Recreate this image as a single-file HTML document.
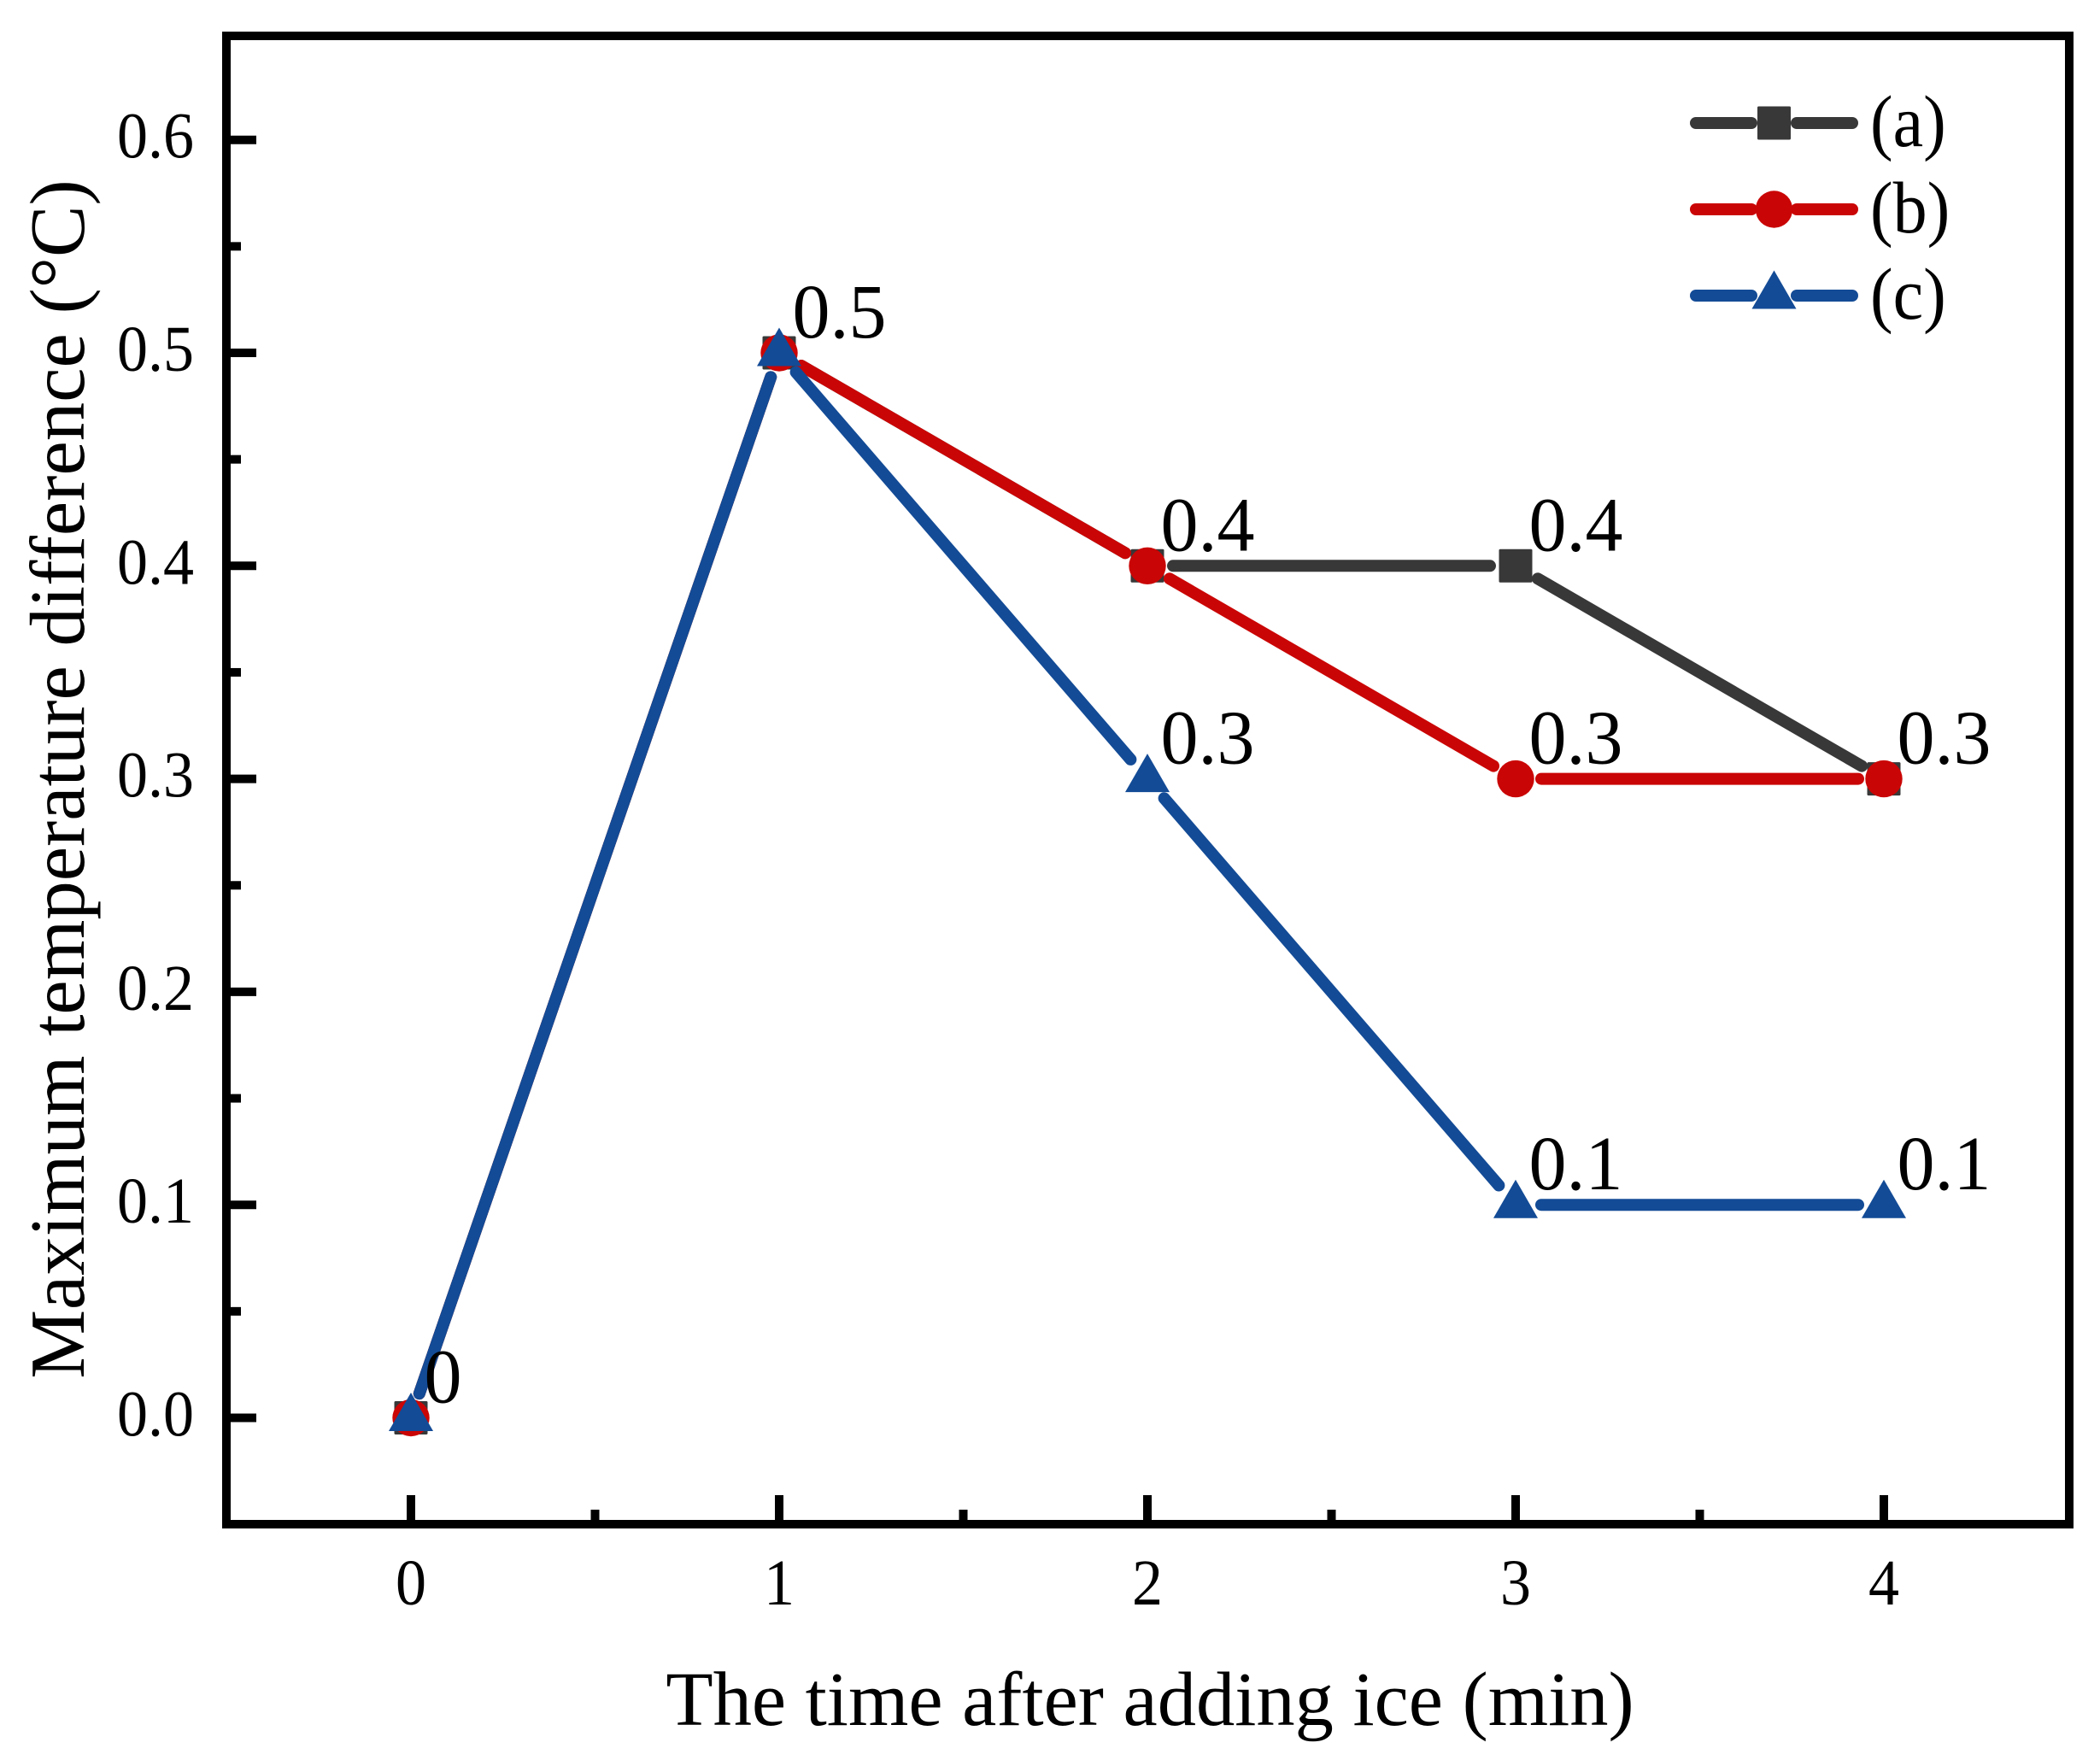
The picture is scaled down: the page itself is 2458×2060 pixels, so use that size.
<!DOCTYPE html>
<html lang="en">
<head>
<meta charset="utf-8">
<title>Maximum temperature difference chart</title>
<style>
html,body{margin:0;padding:0;background:#fff;}
svg{display:block;}
text{font-family:"Liberation Serif",serif;fill:#000;}
</style>
</head>
<body>
<svg id="chart" xmlns="http://www.w3.org/2000/svg" width="2458" height="2060" viewBox="0 0 2458 2060">
  <rect width="2458" height="2060" fill="#fff"/>
  <rect x="265" y="42" width="2157" height="1742" fill="none" stroke="#000" stroke-width="10"/>
  <g id="ticks"></g>
  <g id="series"></g>
  <g id="labels"></g>
  <g id="legend"></g>
  <text x="1346" y="2019" font-size="90.5" text-anchor="middle">The time after adding ice (min)</text>
  <text transform="translate(98,912) rotate(-90)" font-size="90.8" text-anchor="middle">Maximum temperature difference (°C)</text>
</svg>
<script>
const categories = [0, 1, 2, 3, 4];
const seriesA = [0, 0.5, 0.4, 0.4, 0.3];
const seriesB = [0, 0.5, 0.4, 0.3, 0.3];
const seriesC = [0, 0.5, 0.3, 0.1, 0.1];
const xTicks = ['0', '1', '2', '3', '4'];
const xMinorTicks = [0.5, 1.5, 2.5, 3.5];
const yTicks = ['0.0', '0.1', '0.2', '0.3', '0.4', '0.5', '0.6'];
const yMinorTicks = [0.05, 0.15, 0.25, 0.35, 0.45, 0.55];
const labelCategories = [0, 1, 2, 3, 4, 2, 3, 4, 3];
const labelValues = [0, 0.5, 0.4, 0.4, 0.3, 0.3, 0.3, 0.1, 0.1];
const labelTexts = ['0', '0.5', '0.4', '0.4', '0.3', '0.3', '0.3', '0.1', '0.1'];
const legendNames = ['(a)', '(b)', '(c)'];

const NS = 'http://www.w3.org/2000/svg';
const X0 = 481, XS = 431, Y0 = 1659.5, YS = 2493;
const PLOT_L = 270, PLOT_B = 1779;
function xPos(v) { return X0 + XS * v; }
function yPos(v) { return Y0 - YS * v; }

function el(tag, parent) {
  const n = document.createElementNS(NS, tag);
  parent.appendChild(n);
  return n;
}
function setLine(n, x1, y1, x2, y2, color, w, cap) {
  n.setAttribute('x1', x1);
  n.setAttribute('y1', y1);
  n.setAttribute('x2', x2);
  n.setAttribute('y2', y2);
  n.setAttribute('stroke', color);
  n.setAttribute('stroke-width', w);
  n.setAttribute('stroke-linecap', cap);
}
function setText(n, x, y, size, anchor, str, sy) {
  n.setAttribute('transform', 'translate(' + x + ',' + y + ') scale(1,' + sy + ')');
  n.setAttribute('font-size', size);
  n.setAttribute('text-anchor', anchor);
  n.textContent = str;
}

const ticksG = document.getElementById('ticks');
xTicks.forEach(function (t) {
  const x = xPos(Number(t));
  const tick = el('line', ticksG);
  
  
  setLine(tick, x, PLOT_B, x, PLOT_B - 29, '#000', 10, 'butt');
  const lab = el('text', ticksG);
  
  
  setText(lab, x, 1878, 72, 'middle', t, 1.06);
});
xMinorTicks.forEach(function (t) {
  const x = xPos(t);
  const tick = el('line', ticksG);
  
  
  setLine(tick, x, PLOT_B, x, PLOT_B - 12, '#000', 10, 'butt');
});
yTicks.forEach(function (t) {
  const y = yPos(Number(t));
  const tick = el('line', ticksG);
  
  
  setLine(tick, PLOT_L, y, 300, y, '#000', 10, 'butt');
  const lab = el('text', ticksG);
  
  
  setText(lab, 227, y + 21, 72, 'end', t, 1.06);
});
yMinorTicks.forEach(function (t) {
  const y = yPos(t);
  const tick = el('line', ticksG);
  
  
  setLine(tick, PLOT_L, y, 282, y, '#000', 10, 'butt');
});

const DARK = '#383838', RED = '#CA0505', BLUE = '#134B96';
const GAP = 30;
function drawMarker(parent, kind, cx, cy, color) {
  let m;
  if (kind === 'square') {
    m = el('rect', parent);
    m.setAttribute('x', cx - 19.5);
    m.setAttribute('y', cy - 19.5);
    m.setAttribute('width', 39);
    m.setAttribute('height', 39);
    m.setAttribute('rx', 1.5);
  } else if (kind === 'circle') {
    m = el('circle', parent);
    m.setAttribute('cx', cx);
    m.setAttribute('cy', cy);
    m.setAttribute('r', 21.7);
  } else {
    m = el('polygon', parent);
    m.setAttribute('points', (cx - 26) + ',' + (cy + 15.5) + ' ' + (cx + 26) + ',' + (cy + 15.5) + ' ' + cx + ',' + (cy - 29.5));
  }
  m.setAttribute('fill', color);
  return m;
}
function drawSeries(name, values, color, kind) {
  const g = el('g', document.getElementById('series'));
  
  
  for (let i = 0; i < categories.length - 1; i++) {
    const x1 = xPos(categories[i]), y1 = yPos(values[i]);
    const x2 = xPos(categories[i + 1]), y2 = yPos(values[i + 1]);
    const d = Math.hypot(x2 - x1, y2 - y1);
    const ux = (x2 - x1) / d, uy = (y2 - y1) / d;
    const seg = el('line', g);
    
    
    setLine(seg, x1 + ux * GAP, y1 + uy * GAP, x2 - ux * GAP, y2 - uy * GAP, color, 14, 'round');
  }
  categories.forEach(function (c, i) {
    const m = drawMarker(g, kind, xPos(c), yPos(values[i]), color);
    
    
  });
}
drawSeries('a', seriesA, DARK, 'square');
drawSeries('b', seriesB, RED, 'circle');
drawSeries('c', seriesC, BLUE, 'triangle');

const labelsG = document.getElementById('labels');
labelTexts.forEach(function (t, i) {
  const lab = el('text', labelsG);
  
  
  setText(lab, xPos(labelCategories[i]) + 15.5, yPos(labelValues[i]) - 18, 88, 'start', t, 1.02);
});

const legendG = document.getElementById('legend');
const legendColors = [DARK, RED, BLUE];
const legendKinds = ['square', 'circle', 'triangle'];
legendNames.forEach(function (name, i) {
  const y = 144 + 101 * i;
  const entry = el('g', legendG);
  
  
  const l1 = el('line', entry);
  
  
  setLine(l1, 1985, y, 2050, y, legendColors[i], 14, 'round');
  const l2 = el('line', entry);
  
  
  setLine(l2, 2103, y, 2168, y, legendColors[i], 14, 'round');
  const m = drawMarker(entry, legendKinds[i], 2076.5, y, legendColors[i]);
  
  
  const lab = el('text', entry);
  
  
  setText(lab, 2189, y + 27, 80, 'start', name, 1.07);
});
</script>
</body>
</html>
